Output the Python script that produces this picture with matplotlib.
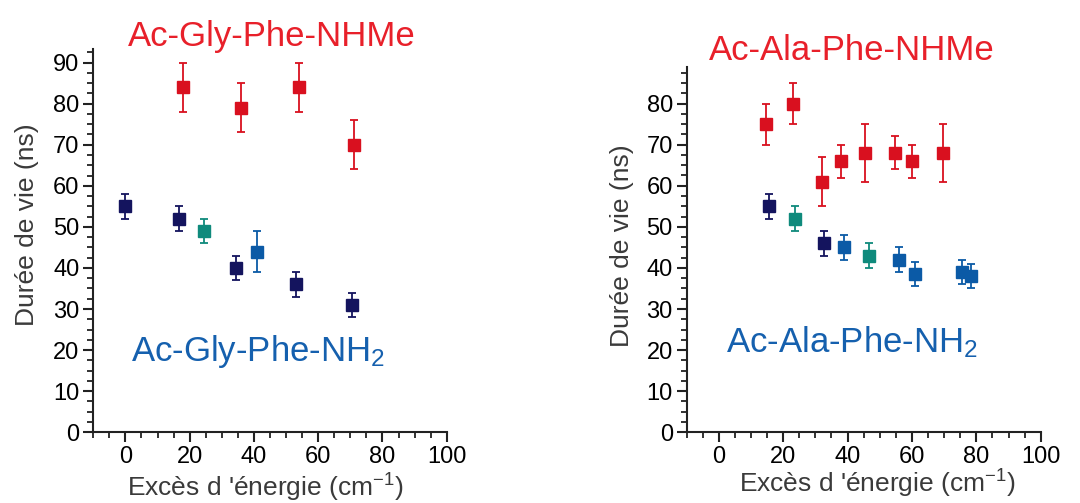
import matplotlib
matplotlib.use('Agg')
import matplotlib.pyplot as plt
from matplotlib.ticker import MultipleLocator

plt.rcParams['font.family'] = ['Liberation Sans', 'DejaVu Sans']
plt.rcParams['mathtext.fontset'] = 'custom'
plt.rcParams['mathtext.rm'] = 'Liberation Sans'
plt.rcParams['mathtext.it'] = 'Liberation Sans'

## Colours
red = '#d9101f'
navy = '#14145e'
teal = '#0f8a7c'
blue = '#0b5aa6'

## Ac-Gly-Phe (left panel)
gly_me_x = [18, 36, 54, 71]
gly_me_y = [84, 79, 84, 70]
gly_me_e = [6, 6, 6, 6]

gly_navy_x = [0, 16.6, 34.5, 53.2, 70.5]
gly_navy_y = [55, 52, 40, 36, 31]
gly_navy_e = [3, 3, 3, 3, 3]

gly_teal_x = [24.4]
gly_teal_y = [49]
gly_teal_e = [3]

gly_blue_x = [40.9]
gly_blue_y = [44]
gly_blue_e = [5]

## Ac-Ala-Phe (right panel)
ala_me_x = [14.8, 23.1, 32, 37.9, 45.5, 54.8, 59.9, 69.5]
ala_me_y = [75, 80, 61, 66, 68, 68, 66, 68]
ala_me_e = [5, 5, 6, 4, 7, 4, 4, 7]

ala_navy_x = [15.6, 32.8]
ala_navy_y = [55, 46]
ala_navy_e = [3, 3]

ala_teal_x = [23.7, 46.6]
ala_teal_y = [52, 43]
ala_teal_e = [3, 3]

ala_blue_x = [38.8, 56, 61.1, 75.4, 78.5]
ala_blue_y = [45, 42, 38.5, 39, 38]
ala_blue_e = [3, 3, 3, 3, 3]

fig = plt.figure(figsize=(10.8, 5.03), dpi=100)
ax1 = fig.add_axes([0.0864, 0.1406, 0.3272, 0.762])
ax2 = fig.add_axes([0.6358, 0.1406, 0.3278, 0.727])

def errpts(ax, x, y, e, c):
    ax.errorbar(x, y, yerr=e, fmt='s', color=c, ecolor=c, ms=8.5,
                elinewidth=1.3, capsize=3, capthick=1.3, clip_on=False)

errpts(ax1, gly_me_x, gly_me_y, gly_me_e, red)
errpts(ax1, gly_navy_x, gly_navy_y, gly_navy_e, navy)
errpts(ax1, gly_teal_x, gly_teal_y, gly_teal_e, teal)
errpts(ax1, gly_blue_x, gly_blue_y, gly_blue_e, blue)

errpts(ax2, ala_me_x, ala_me_y, ala_me_e, red)
errpts(ax2, ala_navy_x, ala_navy_y, ala_navy_e, navy)
errpts(ax2, ala_teal_x, ala_teal_y, ala_teal_e, teal)
errpts(ax2, ala_blue_x, ala_blue_y, ala_blue_e, blue)

ax1.set_ylim(0, 93.3)
ax1.set_yticks(range(0, 91, 10))
ax2.set_ylim(0, 89)
ax2.set_yticks(range(0, 81, 10))

for ax in (ax1, ax2):
    ax.set_xlim(-10, 100)
    ax.set_xticks(range(0, 101, 20))
    ax.xaxis.set_minor_locator(MultipleLocator(5))
    ax.yaxis.set_minor_locator(MultipleLocator(2.5))
    for s in ('top', 'right'):
        ax.spines[s].set_visible(False)
    for s in ('left', 'bottom'):
        ax.spines[s].set_linewidth(1.5)
        ax.spines[s].set_color('#222222')
    ax.tick_params(which='major', length=7, width=1.5, labelsize=17,
                   colors='#222222', labelcolor='black', pad=3)
    ax.tick_params(which='minor', length=4, width=1.3, colors='#222222')
    ax.patch.set_alpha(0)

# Axis labels
fig.text(27/1080, 1 - 225/503, 'Durée de vie (ns)', rotation=90, fontsize=19,
         color='#3a3a3a', ha='center', va='center')
fig.text(622/1080, 1 - 246/503, 'Durée de vie (ns)', rotation=90, fontsize=19,
         color='#3a3a3a', ha='center', va='center')
fig.text(265/1080, 1 - 488/503, "Excès d 'énergie (cm$^{-1}$)", fontsize=19,
         color='#3a3a3a', ha='center', va='center')
fig.text(877/1080, 1 - 484/503, "Excès d 'énergie (cm$^{-1}$)", fontsize=19,
         color='#3a3a3a', ha='center', va='center')

# Molecule names
fig.text(272/1080, 1 - 37/503, 'Ac-Gly-Phe-NHMe', fontsize=25, color='#e8202a',
         ha='center', va='center')
fig.text(258/1080, 1 - 352/503, 'Ac-Gly-Phe-NH$_2$', fontsize=25, color='#1560ae',
         ha='center', va='center')
fig.text(852/1080, 1 - 50/503, 'Ac-Ala-Phe-NHMe', fontsize=25, color='#e8202a',
         ha='center', va='center')
fig.text(852/1080, 1 - 342/503, 'Ac-Ala-Phe-NH$_2$', fontsize=25, color='#1560ae',
         ha='center', va='center')

fig.savefig('out.png', dpi=100)
